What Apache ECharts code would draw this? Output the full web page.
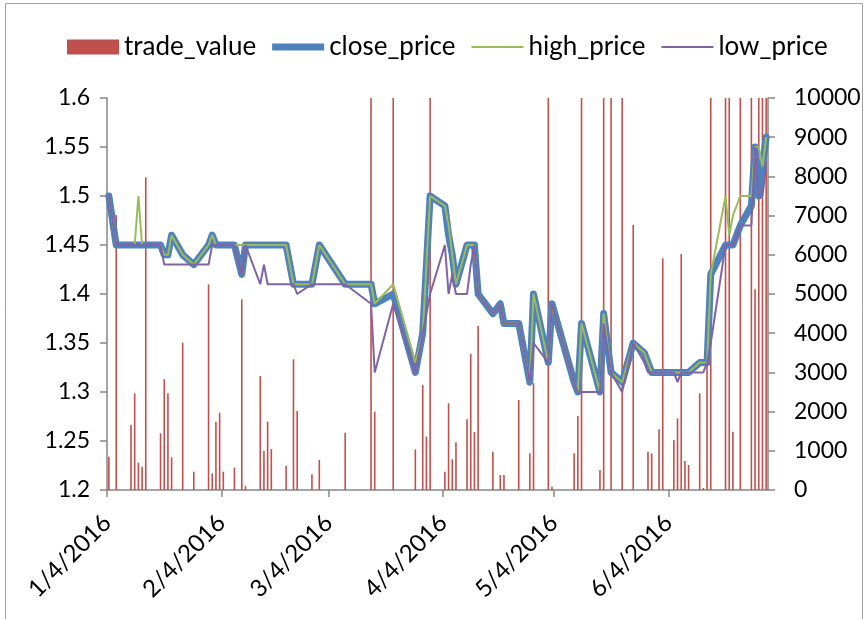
<!DOCTYPE html>
<html>
<head>
<meta charset="utf-8">
<script src="https://cdn.jsdelivr.net/npm/echarts@6/dist/echarts.min.js"></script>
<style>
  html, body { margin: 0; padding: 0; background: #fff; }
  #main { width: 867px; height: 619px; }
</style>
</head>
<body>
<div id="main"></div>
<script>
// data
var dates = ['2016-01-04', '2016-01-06', '2016-01-10', '2016-01-11', '2016-01-12', '2016-01-13', '2016-01-14',
    '2016-01-18', '2016-01-19', '2016-01-20', '2016-01-21', '2016-01-24', '2016-01-27', '2016-01-31',
    '2016-02-01', '2016-02-02', '2016-02-03', '2016-02-04', '2016-02-07', '2016-02-09', '2016-02-10',
    '2016-02-14', '2016-02-15', '2016-02-16', '2016-02-17', '2016-02-21', '2016-02-23', '2016-02-24',
    '2016-02-28', '2016-03-01', '2016-03-08', '2016-03-15', '2016-03-16', '2016-03-21', '2016-03-27',
    '2016-03-29', '2016-03-30', '2016-03-31', '2016-04-04', '2016-04-05', '2016-04-06', '2016-04-07',
    '2016-04-10', '2016-04-11', '2016-04-12', '2016-04-13', '2016-04-17', '2016-04-19', '2016-04-20',
    '2016-04-24', '2016-04-27', '2016-04-28', '2016-05-02', '2016-05-03', '2016-05-09', '2016-05-10',
    '2016-05-11', '2016-05-16', '2016-05-17', '2016-05-19', '2016-05-22', '2016-05-25', '2016-05-28',
    '2016-05-29', '2016-05-30', '2016-06-01', '2016-06-02', '2016-06-05', '2016-06-06', '2016-06-07',
    '2016-06-08', '2016-06-09', '2016-06-12', '2016-06-13', '2016-06-14', '2016-06-15', '2016-06-19',
    '2016-06-20', '2016-06-21', '2016-06-23', '2016-06-26', '2016-06-27', '2016-06-28', '2016-06-29',
    '2016-06-30'];

var closePrice = [1.50, 1.45, 1.45, 1.45, 1.45, 1.45, 1.45,
    1.45, 1.44, 1.44, 1.46, 1.44, 1.43, 1.45,
    1.46, 1.45, 1.45, 1.45, 1.45, 1.42, 1.45,
    1.45, 1.45, 1.45, 1.45, 1.45, 1.41, 1.41,
    1.41, 1.45, 1.41, 1.41, 1.39, 1.40, 1.32,
    1.36, 1.43, 1.50, 1.49, 1.46, 1.44, 1.41,
    1.45, 1.45, 1.45, 1.40, 1.38, 1.39, 1.37,
    1.37, 1.31, 1.40, 1.33, 1.39, 1.31, 1.30,
    1.37, 1.30, 1.38, 1.32, 1.31, 1.35, 1.34,
    1.33, 1.32, 1.32, 1.32, 1.32, 1.32, 1.32,
    1.32, 1.32, 1.33, 1.33, 1.33, 1.42, 1.45,
    1.45, 1.45, 1.47, 1.49, 1.55, 1.50, 1.53,
    1.56];

var highPrice = [1.50, 1.45, 1.45, 1.45, 1.50, 1.45, 1.45,
    1.45, 1.44, 1.44, 1.46, 1.44, 1.43, 1.45,
    1.46, 1.45, 1.45, 1.45, 1.45, 1.45, 1.45,
    1.45, 1.45, 1.45, 1.45, 1.45, 1.41, 1.41,
    1.41, 1.45, 1.41, 1.41, 1.39, 1.41, 1.33,
    1.36, 1.43, 1.50, 1.49, 1.47, 1.44, 1.41,
    1.45, 1.45, 1.45, 1.40, 1.38, 1.39, 1.37,
    1.37, 1.31, 1.40, 1.33, 1.39, 1.31, 1.30,
    1.37, 1.30, 1.38, 1.32, 1.31, 1.35, 1.34,
    1.33, 1.32, 1.32, 1.32, 1.32, 1.32, 1.32,
    1.32, 1.32, 1.33, 1.33, 1.33, 1.42, 1.50,
    1.46, 1.48, 1.50, 1.50, 1.55, 1.55, 1.53,
    1.56];

var lowPrice = [1.50, 1.45, 1.45, 1.45, 1.45, 1.45, 1.45,
    1.45, 1.43, 1.43, 1.43, 1.43, 1.43, 1.43,
    1.45, 1.45, 1.45, 1.45, 1.45, 1.42, 1.45,
    1.41, 1.43, 1.41, 1.41, 1.41, 1.41, 1.40,
    1.41, 1.41, 1.41, 1.39, 1.32, 1.39, 1.32,
    1.36, 1.38, 1.40, 1.45, 1.40, 1.42, 1.40,
    1.40, 1.43, 1.45, 1.40, 1.38, 1.39, 1.37,
    1.37, 1.31, 1.35, 1.33, 1.39, 1.31, 1.30,
    1.30, 1.30, 1.37, 1.32, 1.30, 1.35, 1.33,
    1.32, 1.32, 1.32, 1.32, 1.32, 1.31, 1.32,
    1.32, 1.32, 1.32, 1.32, 1.33, 1.35, 1.45,
    1.45, 1.45, 1.47, 1.47, 1.55, 1.50, 1.50,
    1.53];

// bars above 10000 run off the top of the plot
var tradeValue = [850, 7015, 1658, 2466, 697, 595, 7976,
    1446, 2823, 2466, 833, 3759, 468, 5247,
    425, 1743, 1973, 468, 570, 4864, 100,
    2908, 995, 1743, 1046, 621, 3334, 2015,
    400, 765, 1462, 20000, 1998, 20000, 1037,
    2679, 1360, 20000, 468, 2211, 782, 1216,
    1803, 3470, 1480, 4184, 978, 383, 383,
    2296, 935, 2722, 20000, 85, 935, 1888,
    20000, 510, 20000, 20000, 20000, 6760, 0,
    978, 935, 1548, 5910, 1276, 1828, 6020,
    740, 638, 2466, 50, 3250, 20000, 20000,
    20000, 1488, 20000, 20000, 5120, 20000, 20000,
    20000];

var tickDates = ['2016-01-04', '2016-02-04', '2016-03-04', '2016-04-04', '2016-05-04', '2016-06-04'];

function toTime(s, hour) {
    var p = s.split('-');
    return new Date(+p[0], +p[1] - 1, +p[2], hour || 0).getTime();
}

function pairs(vals) {
    var out = [];
    for (var i = 0; i < dates.length; i++) {
        out.push([toTime(dates[i], 12), vals[i]]);
    }
    return out;
}

var tickTimes = tickDates.map(function (s) { return toTime(s); });
var font = 'Lato, "Liberation Sans", Arial, sans-serif';
var axisGray = '#868686';

var myChart = echarts.init(document.getElementById('main'));
myChart.setOption({
    animation: false,
    textStyle: { fontFamily: font },
    graphic: [{
        type: 'rect',
        shape: { x: 5.5, y: 3.5, width: 857, height: 640 },
        style: { fill: 'none', stroke: '#a0a0a0', lineWidth: 1 },
        silent: true
    }],
    legend: {
        left: 62,
        top: 29,
        itemWidth: 52,
        itemHeight: 15,
        itemGap: 16,
        textStyle: { fontFamily: font, fontSize: 26, color: '#000' },
        data: [
            { name: 'trade_value', icon: 'rect' },
            { name: 'close_price', icon: 'path://M0,0H52V7H0Z' },
            { name: 'high_price', icon: 'path://M0,0H52V2H0Z' },
            { name: 'low_price', icon: 'path://M0,0H52V2H0Z' }
        ]
    },
    grid: { left: 107, right: 99, top: 98, bottom: 129 },
    xAxis: {
        // dates as millisecond values, ticks only on the 4th of each month
        type: 'value',
        min: toTime('2016-01-04'),
        max: toTime('2016-07-01'),
        axisLine: { lineStyle: { color: axisGray, width: 1.5 } },
        axisTick: { show: true, length: 7, customValues: tickTimes, lineStyle: { color: axisGray, width: 1.5 } },
        axisLabel: {
            customValues: tickTimes,
            rotate: 45,
            margin: 29,
            fontSize: 24,
            color: '#000',
            formatter: function (val) {
                var d = new Date(val);
                return (d.getMonth() + 1) + '/' + d.getDate() + '/' + d.getFullYear();
            }
        },
        splitLine: { show: false }
    },
    yAxis: [{
        type: 'value',
        min: 1.2,
        max: 1.6,
        interval: 0.05,
        axisLine: { show: true, lineStyle: { color: axisGray, width: 1.5 } },
        axisTick: { show: true, length: 7, lineStyle: { color: axisGray, width: 1.5 } },
        axisLabel: {
            margin: 17, fontSize: 23, color: '#000',
            formatter: function (v) { return String(+v.toFixed(2)); }
        },
        splitLine: { show: false }
    }, {
        type: 'value',
        min: 0,
        max: 10000,
        interval: 1000,
        axisLine: { show: true, lineStyle: { color: axisGray, width: 1.5 } },
        axisTick: { show: true, length: 7, lineStyle: { color: axisGray, width: 1.5 } },
        axisLabel: {
            margin: 26, fontSize: 23, color: '#000',
            formatter: function (v) { return String(v); }
        },
        splitLine: { show: false }
    }],
    series: [
        {
            name: 'trade_value', type: 'bar', yAxisIndex: 1, barWidth: 1.6, clip: true,
            itemStyle: { color: '#C0504D' }, data: pairs(tradeValue)
        },
        {
            name: 'close_price', type: 'line', yAxisIndex: 0, symbol: 'none',
            lineStyle: { color: '#4F81BD', width: 7, join: 'round', cap: 'round' },
            itemStyle: { color: '#4F81BD' }, data: pairs(closePrice)
        },
        {
            name: 'high_price', type: 'line', yAxisIndex: 0, symbol: 'none',
            lineStyle: { color: '#9BBB59', width: 2 },
            itemStyle: { color: '#9BBB59' }, data: pairs(highPrice)
        },
        {
            name: 'low_price', type: 'line', yAxisIndex: 0, symbol: 'none',
            lineStyle: { color: '#8064A2', width: 2 },
            itemStyle: { color: '#8064A2' }, data: pairs(lowPrice)
        }
    ]
});
</script>
</body>
</html>
